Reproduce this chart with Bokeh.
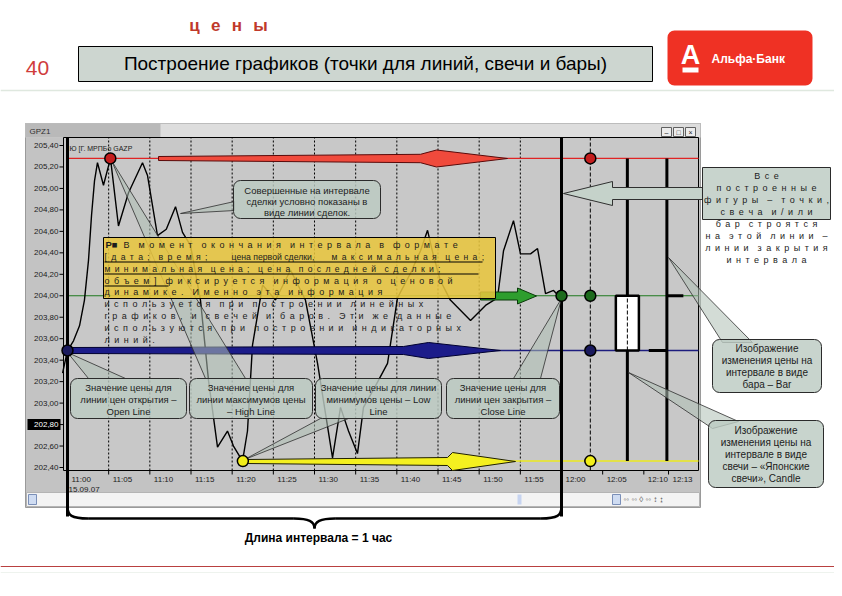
from bokeh.plotting import figure
from bokeh.models import Range1d
from bokeh.embed import file_html
from bokeh.resources import INLINE
from bokeh.core.properties import value

# ---------------- data ----------------
trade_minutes = [-0.6, 0.0, 0.73, 1.46, 2.06, 2.55, 2.92, 3.28, 3.64, 4.37,
                 5.22, 6.19, 7.41, 9.11, 9.72, 10.93, 12.0, 13.12, 13.97, 14.94,
                 16.15, 17.13, 18.22, 19.43, 20.16, 21.26, 21.86, 22.47, 23.69, 25.26,
                 27.09, 28.90, 30.37, 32.19, 33.16, 34.13, 35.22, 35.95, 37.41, 38.87,
                 40.08, 41.66, 42.88, 43.73, 44.46, 45.30, 46.50, 48.95, 50.77, 52.23,
                 52.96, 54.17, 55.02, 56.24, 57.09, 58.06, 59.03, 59.64, 60.00]
trade_prices = [203.28, 203.49, 203.58, 203.72, 203.96, 204.33, 204.75, 205.07, 205.24, 205.03,
                205.28, 204.65, 204.96, 205.24, 205.12, 204.56, 204.62, 204.83, 204.59, 204.47,
                203.96, 203.21, 202.59, 202.74, 202.60, 202.46, 202.74, 203.54, 204.10, 203.96,
                204.24, 203.96, 203.37, 202.49, 202.96, 202.74, 202.53, 202.96, 203.16, 203.37,
                203.98, 204.21, 204.42, 204.61, 204.37, 204.14, 203.96, 203.77, 203.91, 203.98,
                204.42, 204.70, 204.39, 204.39, 204.44, 204.02, 204.05, 204.00, 204.00]

y_ticks = [205.40, 205.20, 205.00, 204.80, 204.60, 204.40, 204.20, 204.00,
           203.80, 203.60, 203.40, 203.20, 203.00, 202.80, 202.60, 202.40]
y_tick_labels = ["205,40", "205,20", "205,00", "204,80", "204,60", "204,40", "204,20", "204,00",
                 "203,80", "203,60", "203,40", "203,20", "203,00", "202,80", "202,60", "202,40"]
marked_price = 202.80

x_ticks = [0, 5, 10, 15, 20, 25, 30, 35, 40, 45, 50, 55, 60, 65, 70, 73]
x_tick_labels = ["11:00", "11:05", "11:10", "11:15", "11:20", "11:25", "11:30", "11:35",
                 "11:40", "11:45", "11:50", "11:55", "12:00", "12:05", "12:10", "12:13"]
date_label = "15.09.07"

ohlc_names = ["open", "high", "low", "close"]
ohlc_values = [203.49, 205.28, 202.46, 204.00]
ohlc_times = [0.0, 5.2, 21.3, 60.0]
interval_start, interval_end = 0.0, 60.0
points_time = 63.5
candle_time = 68.0
bar_time = 72.8

# ---------------- layout / style ----------------
F = "Liberation Sans"
FN = "Liberation Sans Narrow, Liberation Sans, sans-serif"
OHLC_COL = {"open": "#1c1c7e", "high": "#e02424", "low": "#ecea1e", "close": "#1f7a1f"}
DOT_COL = {"open": "#1a1a5e", "high": "#c41e1e", "low": "#f2ee1a", "close": "#1d6b1d"}
CALL_FILL = "#bccbc2"
PTR_FILL = "#aebfb5"

PX_T0, PX_T60 = 67.0, 561.0          # page columns of 11:00 and 12:00
PPM = (PX_T60 - PX_T0) / 60.0
PX_PHI, PX_PLO = 145.0, 467.0        # page rows of top / bottom tick
PPP = (PX_PLO - PX_PHI) / (y_ticks[0] - y_ticks[-1])


def t_at(px):
    return (px - PX_T0) / PPM


def p_at(py):
    return y_ticks[0] - (py - PX_PHI) / PPP


W, H = 834, 588
CL, CR, CT, CB = 63, 698, 137, 470    # chart frame (page px)
chart_t0, chart_t1 = t_at(CL), t_at(CR)
chart_p0, chart_p1 = p_at(CB), p_at(CT)

p = figure(width=W, height=H, x_range=Range1d(0, W), y_range=Range1d(H, 0),
           x_axis_type=None, y_axis_type=None, toolbar_location=None,
           output_backend="svg", min_border=0, outline_line_color=None,
           background_fill_color="white", border_fill_color="white")
p.extra_x_ranges = {"t": Range1d(t_at(0), t_at(W))}
p.extra_y_ranges = {"p": Range1d(p_at(H), p_at(0))}
D = dict(x_range_name="t", y_range_name="p")

EN, WG = "\u2002", "\u2002\u2002"


def sp(s):
    return WG.join(EN.join(list(w)) for w in s.split(" "))


def txt(xs, ys, texts, size=9.0, color="#1c1c1c", align="left", baseline="middle",
        font=F, style="normal", **kw):
    p.text(x=xs, y=ys, text=texts, text_font=value(font), text_font_size=f"{size}px",
           text_color=color, text_align=align, text_baseline=baseline,
           text_font_style=style, **kw)


# ---------------- slide header ----------------
txt([228], [25], ["ц\u2002\u2006е\u2002\u2006н\u2002\u2006ы"], size=17, color="#c0392b",
    align="center", style="bold")
txt([37], [67], ["40"], size=21, color="#d03c3c", align="center")
p.quad(left=[78], right=[652], top=[46], bottom=[81], fill_color="#cdd6d0",
       line_color="black", line_width=1)
txt([365], [63], ["Построение графиков (точки для линий, свечи и бары)"], size=19,
    color="black", align="center")
p.quad(left=[667], right=[812], top=[30], bottom=[85], fill_color="#ef3124",
       line_color=None, border_radius=7)
txt([690], [54], ["А"], size=27, color="white", align="center", style="bold")
p.quad(left=[682], right=[698], top=[67], bottom=[72], fill_color="white", line_color=None)
txt([711], [58], ["Альфа·Банк"], size=12, color="white", style="bold", font=FN)
p.segment(x0=[0], y0=[90], x1=[W], y1=[90], line_color="#dfe8df", line_width=1.5)
p.segment(x0=[0], y0=[566], x1=[W], y1=[566], line_color="#b94040", line_width=1)
p.segment(x0=[0], y0=[572], x1=[W], y1=[572], line_color="#eef3ee", line_width=1)

# ---------------- chart window ----------------
p.quad(left=[25], right=[700], top=[123], bottom=[507], fill_color="#c3c3c3",
       line_color="#9a9a9a", line_width=1)
p.quad(left=[25], right=[700], top=[123], bottom=[137], fill_color="#dddddd", line_color=None)
p.quad(left=[25], right=[160], top=[123], bottom=[137], fill_color="#b9b9b9", line_color=None)
txt([29], [131], ["GPZ1"], size=8, color="#303030")
p.quad(left=[661, 673, 685], right=[671, 683, 695], top=[127] * 3, bottom=[136] * 3,
       fill_color="#ececec", line_color="#606060", line_width=1)
txt([666, 678, 690], [131.5] * 3, ["–", "□", "×"], size=7, color="#202020", align="center")
p.quad(left=[CL], right=[CR], top=[CT], bottom=[CB], fill_color="#c8c8c8",
       line_color="black", line_width=1)
p.quad(left=[26], right=[699], top=[492], bottom=[506], fill_color="#f3f3f3",
       line_color="#b4b4b4", line_width=1)
p.quad(left=[28, 612], right=[36, 620], top=[494, 494], bottom=[504, 504],
       fill_color="#cfdcf2", line_color="#7a8fb8", line_width=1)
p.quad(left=[517], right=[521], top=[494], bottom=[504], fill_color="#c7d4f0", line_color=None)
txt([623], [499], ["◦◦ ◦◦ ◊ ◦◦ ↕ ↨"], size=8, color="#505050")
txt([69], [148], ["Ю [Г. МРПБо GAZP"], size=7, color="#202020")

# grid (5-minute marks inside the interval) and the points line
grid_t = x_ticks[1:12]
p.segment(x0=grid_t, y0=[chart_p0] * len(grid_t), x1=grid_t, y1=[chart_p1] * len(grid_t),
          line_color="black", line_width=1, line_dash="2 2", **D)
p.segment(x0=[points_time], y0=[chart_p0], x1=[points_time], y1=[chart_p1],
          line_color="black", line_width=1, line_dash="4 2", **D)

# horizontal OHLC lines
starts = {"open": chart_t0, "high": interval_start, "low": ohlc_times[2], "close": interval_start}
for name, val in zip(ohlc_names, ohlc_values):
    p.segment(x0=[starts[name]], y0=[val], x1=[chart_t1], y1=[val],
              line_color=OHLC_COL[name], line_width=1.6 if name in ("open", "low") else 1.1, **D)

# trade line
p.line(trade_minutes, trade_prices, line_color="black", line_width=1.4, **D)

# interval boundaries
p.segment(x0=[interval_start, interval_end], y0=[p_at(516)] * 2,
          x1=[interval_start, interval_end], y1=[chart_p1] * 2,
          line_color="black", line_width=3, **D)

# candle
o, h, l, c = ohlc_values
p.segment(x0=[candle_time], y0=[l], x1=[candle_time], y1=[h], line_color="black",
          line_width=3, **D)
p.quad(left=[candle_time - 1.4], right=[candle_time + 1.4], bottom=[o], top=[c],
       fill_color="white", line_color="black", line_width=2.5, **D)
p.segment(x0=[candle_time], y0=[o], x1=[candle_time], y1=[c], line_color="black",
          line_width=1, line_dash="4 2", **D)
# bar
p.segment(x0=[bar_time, bar_time - 2.2, bar_time], y0=[l, o, c],
          x1=[bar_time, bar_time, bar_time + 2.0], y1=[h, o, c],
          line_color="black", line_width=3, **D)


# ---------------- arrows (slide overlay) ----------------
def dart(x_tail, x_neck, x_wide, x_tip, y, th, bh, hh):
    return ([x_tail, x_neck, x_wide, x_tip, x_wide, x_neck, x_tail],
            [y - th, y - bh, y - hh, y, y + hh, y + bh, y + th])


for (xs, ys), fc, lc in [
        (dart(158, 420, 436, 507, 158, 2.0, 4.2, 8.5), "#f04a3c", "#5a0a0a"),
        (dart(68, 403, 428, 500, 350, 3.0, 4.0, 8), "#1c1c8a", "#000030"),
        (dart(246, 447, 452, 515, 461, 2.0, 4.0, 9), "#f4f020", "#202000"),
        (([480, 517, 517, 536, 517, 517, 480], [291.5, 291.5, 287.5, 295.5, 303.5, 299.5, 299.5]),
         "#2e9e2e", "#0a3a0a"),
        (([563, 612, 612, 702, 702, 612, 612], [193, 181, 187, 187, 199, 199, 205]),
         "#c5d2ca", "#303030")]:
    p.patch(xs, ys, fill_color=fc, line_color=lc, line_width=1)

# ---------------- callout pointers ----------------
pointers = [
    [(180, 213), (234, 201), (234, 210)],
    [(67, 352), (88, 378), (125, 378)],
    [(111, 160), (205, 378), (245, 378)],
    [(244, 459), (320, 418), (348, 418)],
    [(561, 298), (513, 378), (540, 378)],
    [(668, 257), (722, 342), (752, 342)],
    [(628, 372), (712, 428), (738, 421)],
]
p.patches(xs=[[a for a, b in pt] for pt in pointers], ys=[[b for a, b in pt] for pt in pointers],
          fill_color=PTR_FILL, fill_alpha=0.55, line_color="#2e2e2e", line_width=0.8)

# OHLC dots at the moments they were set and on the points line
p.scatter(x=ohlc_times + [points_time] * 4, y=ohlc_values + ohlc_values, size=11,
          fill_color=[DOT_COL[n] for n in ohlc_names] * 2, line_color="black",
          line_width=1.5, **D)


# ---------------- callout boxes ----------------
def callout(l, r, t, b, lines, ys, size=9.5):
    p.quad(left=[l], right=[r], top=[t], bottom=[b], fill_color=CALL_FILL, fill_alpha=0.82,
           line_color="#2b2b2b", line_width=1, border_radius=7)
    txt([(l + r) / 2] * len(lines), ys, lines, size=size, align="center")


callout(233, 380, 180, 218, ["Совершенные на интервале", "сделки условно показаны в",
                             "виде линии сделок."], [190, 201, 212])
callout(70, 186, 378, 418, ["Значение цены для", "линии цен открытия –", "Open Line"],
        [387, 399, 411])
callout(189, 312, 378, 418, ["Значение цены для", "линии максимумов цены", "– High Line"],
        [387, 399, 411])
callout(315, 441, 378, 418, ["Значение цены для линии", "минимумов цены – Low", "Line"],
        [387, 399, 411])
callout(446, 559, 378, 418, ["Значение цены для", "линии цен закрытия –", "Close Line"],
        [387, 399, 411])
callout(712, 821, 339, 392, ["Изображение", "изменения цены на", "интервале в виде",
                             "бара – Bar"], [348, 360, 372, 384], size=10)
callout(708, 823, 420, 487, ["Изображение", "изменения цены на", "интервале в виде",
                             "свечи – «Японские", "свечи», Candle"],
        [430, 442, 454, 466, 478], size=10)

p.quad(left=[702], right=[830], top=[167], bottom=[219], fill_color=CALL_FILL, fill_alpha=0.82,
       line_color="#2b2b2b", line_width=1)
right_lines = ["Все", "построенные", "фигуры – точки,", "свеча и/или", "бар строятся",
               "на этой линии –", "линии закрытия", "интервала"]
txt([766] * 8, [175, 187, 199, 211, 223, 235, 247, 259], [sp(s) for s in right_lines],
    size=9, align="center")

# yellow explanation box
p.quad(left=[103], right=[495], top=[237], bottom=[298], fill_color="#e9c63c", fill_alpha=0.86,
       line_color="black", line_width=1)
txt([105], [244], ["Р■"], size=9.5, style="bold")
txt([123], [244], [sp("В момент окончания интервала в формате")], size=9)
txt([104], [256], [sp("[дата; время;")], size=8.7)
txt([231], [256], ["цена первой сделки,"], size=8.7)
txt([331], [256], [sp("максимальная цена;")], size=8.6)
txt([104], [268], [sp("минимальная цена; цена последней сделки;")], size=8.6)
body_lines = ["объем] фиксируется информация о ценовой",
              "динамике. Именно эта информация",
              "используется при построении линейных",
              "графиков, и свечей и баров. Эти же данные",
              "используются при построении индикаторных",
              "линий."]
txt([104] * 6, [280, 291, 303, 315, 327, 339], [sp(s) for s in body_lines], size=9)
p.segment(x0=[104, 104, 104], y0=[261.5, 273.5, 285.5], x1=[482, 478, 168],
          y1=[261.5, 273.5, 285.5], line_color="black", line_width=1)

# ---------------- axes of the chart window ----------------
p.segment(x0=[59] * len(y_ticks), y0=y_ticks, x1=[CL] * len(y_ticks), y1=y_ticks,
          line_color="black", line_width=1, y_range_name="p")
p.rect(x=[43.5], y=[marked_price], width=33, height=11, height_units="screen",
       fill_color="black", line_color=None, y_range_name="p")
txt([58] * len(y_ticks), y_ticks, y_tick_labels, size=8,
    color=["white" if v == marked_price else "#1c1c1c" for v in y_ticks],
    align="right", y_range_name="p")
p.segment(x0=x_ticks, y0=[CB] * len(x_ticks), x1=x_ticks, y1=[CB + 4] * len(x_ticks),
          line_color="black", line_width=1, x_range_name="t")
txt(x_ticks, [479] * len(x_ticks), x_tick_labels, size=8, x_offset=4, x_range_name="t")
txt([interval_start], [489], [date_label], size=8, x_offset=1, x_range_name="t")

# ---------------- interval brace ----------------
mid = (interval_start + interval_end) / 2
p.bezier(x0=[interval_start, mid - 2.5, mid, interval_end - 2.5],
         y0=[506, 518, 528, 518],
         x1=[interval_start + 2.5, mid, mid + 2.5, interval_end],
         y1=[518, 528, 518, 506],
         cx0=[interval_start, mid - 0.7, mid, interval_end - 0.5],
         cy0=[515, 518, 521, 518],
         cx1=[interval_start + 0.5, mid, mid + 0.7, interval_end],
         cy1=[518, 521, 518, 515],
         line_color="black", line_width=2.5, x_range_name="t")
p.segment(x0=[interval_start + 2.5], y0=[518], x1=[mid - 2.5], y1=[518], line_color="black",
          line_width=2.5, x_range_name="t")
p.segment(x0=[mid + 2.5], y0=[518], x1=[interval_end - 2.5], y1=[518], line_color="black",
          line_width=2.5, x_range_name="t")
txt([318], [537], ["Длина интервала = 1 час"], size=12, color="black", align="center",
    style="bold", font=FN)

with open("out.html", "w", encoding="utf-8") as f:
    f.write(file_html(p, INLINE, "chart"))
